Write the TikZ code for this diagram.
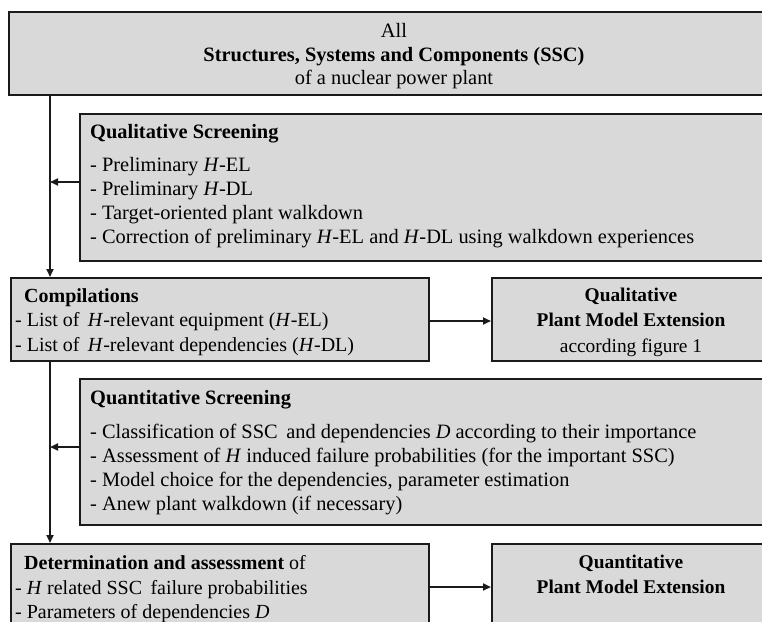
\documentclass[tikz,border=0pt]{standalone}
\usepackage{fontspec}
\setmainfont{Liberation Serif}
\usetikzlibrary{arrows.meta}
\definecolor{boxgray}{HTML}{D9D9D9}
\definecolor{edge}{HTML}{1A1A1A}
\begin{document}
\begin{tikzpicture}[x=1pt,y=-1pt,
  box/.style={draw=edge, line width=1.9pt, fill=boxgray, inner sep=0pt,
    anchor=north west},
  txt/.style={anchor=base west, inner sep=0pt,
    font=\fontsize{20.4}{24}\selectfont},
  ltxt/.style={anchor=base west, inner sep=0pt,
    font=\fontsize{20}{24}\selectfont},
  ctxt/.style={anchor=base, inner sep=0pt,
    font=\fontsize{20.4}{24}\selectfont},
  ptxt/.style={anchor=base, inner sep=0pt,
    font=\fontsize{19.4}{24}\selectfont},
  flow/.style={draw=edge, line width=1.9pt,
    -{Triangle[length=8pt,width=7pt]}}]
\useasboundingbox (0,0) rectangle (762,621);
\clip (0,0) rectangle (762,621);

% boxes (the right-hand ones run on past the page edge)
\node[box, minimum width=790pt, minimum height=83pt]  (all)   at (8,11)   {};
\node[box, minimum width=720pt, minimum height=147pt] (qls)   at (79,113) {};
\node[box, minimum width=418pt, minimum height=83pt]  (comp)  at (10,277) {};
\node[box, minimum width=300pt, minimum height=83pt]  (qlpme) at (491,277) {};
\node[box, minimum width=720pt, minimum height=146pt] (qns)   at (79,378) {};
\node[box, minimum width=418pt, minimum height=100pt] (det)   at (10,543) {};
\node[box, minimum width=300pt, minimum height=100pt] (qnpme) at (491,543) {};

% top box text
\node[ctxt] (allA) at (394,37) {All};
\node[ctxt] (allB) at (394,61) {\textbf{Structures, Systems and Components (SSC)}};
\node[ctxt] (allC) at (394,84) {of a nuclear power plant};

% qualitative screening
\node[txt] (qlsT) at (90,138) {\textbf{Qualitative Screening}};
\node[txt] (qls1) at (90,171) {- Preliminary \textit{H}-EL};
\node[txt] (qls2) at (90,195) {- Preliminary \textit{H}-DL};
\node[txt] (qls3) at (90,219) {- Target-oriented plant walkdown};
\node[txt] (qls4) at (90,243) {- Correction of preliminary \textit{H}-EL and \textit{H}-DL using walkdown experiences};

% compilations
\node[ltxt] (compT) at (24,302) {\textbf{Compilations}};
\node[ltxt] (comp1) at (15,326) {- List of\, \textit{H}-relevant equipment (\textit{H}-EL)};
\node[ltxt] (comp2) at (15,351) {- List of\, \textit{H}-relevant dependencies (\textit{H}-DL)};

% qualitative plant model extension
\node[ptxt] (qlpmeA) at (631,301) {\textbf{Qualitative}};
\node[ptxt] (qlpmeB) at (631,326) {\textbf{Plant Model Extension}};
\node[ptxt] (qlpmeC) at (631,352) {according figure 1};

% quantitative screening
\node[txt] (qnsT) at (90,404) {\textbf{Quantitative Screening}};
\node[txt] (qns1) at (90,438) {- Classification of SSC\, and dependencies \textit{D} according to their importance};
\node[txt] (qns2) at (90,462) {- Assessment of \textit{H} induced failure probabilities (for the important SSC)};
\node[txt] (qns3) at (90,486) {- Model choice for the dependencies, parameter estimation};
\node[txt] (qns4) at (90,510) {- Anew plant walkdown (if necessary)};

% determination and assessment
\node[ltxt] (detT) at (24,569) {\textbf{Determination and assessment} of};
\node[ltxt] (det1) at (15,594) {- \textit{H} related SSC\, failure probabilities};
\node[ltxt] (det2) at (15,618) {- Parameters of dependencies \textit{D}};

% quantitative plant model extension
\node[ptxt] (qnpmeA) at (631,568) {\textbf{Quantitative}};
\node[ptxt] (qnpmeB) at (631,593) {\textbf{Plant Model Extension}};

% main vertical flow
\coordinate (trunkA) at (all.south -| 50,0);
\coordinate (trunkB) at (comp.south -| 50,0);
\draw[flow] (trunkA) -- (trunkA |- comp.north);
\draw[flow] (trunkB) -- (trunkB |- det.north);

% screening results fed back into the trunk
\draw[flow] (qls.west |- 0,182) -- (50,182);
\draw[flow] (qns.west |- 0,447) -- (50,447);

% towards the plant model
\draw[flow] (comp.east |- 0,321) -- (qlpme.west |- 0,321);
\draw[flow] (det.east |- 0,587) -- (qnpme.west |- 0,587);
\end{tikzpicture}
\end{document}
